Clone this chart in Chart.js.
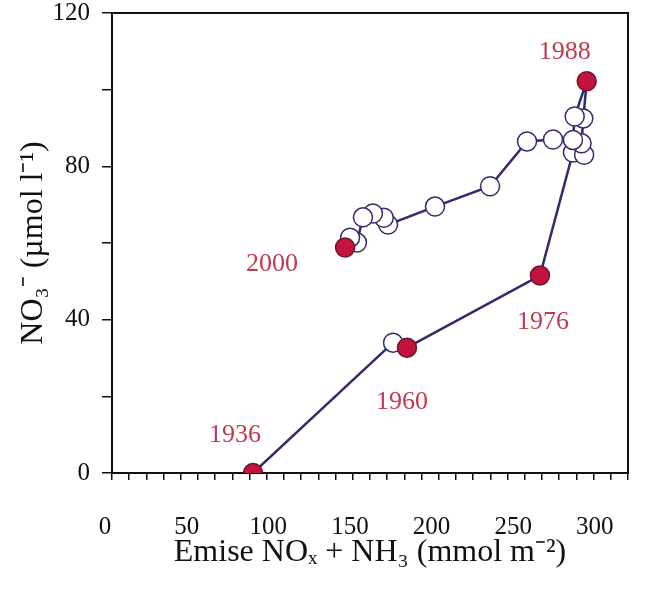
<!DOCTYPE html>
<html>
<head>
<meta charset="utf-8">
<script src="https://cdn.jsdelivr.net/npm/chart.js@4.4.1/dist/chart.umd.min.js"></script>
<style>
html, body { margin: 0; padding: 0; background: #fff; }
#wrap { width: 653px; height: 594px; }
</style>
</head>
<body>
<div id="wrap"><canvas id="graf" width="653" height="594"></canvas></div>
<script>
// emise NOx + NH3 vs. koncentrace NO3-, body v casovem poradi 1936 -> 2000
const emise = [82, 163.4, 171.5, 248.8, 268, 274.5, 273, 274, 276,
               269, 268, 256.4, 241.3, 219.8, 187.8, 160.5, 158, 151.7, 145.9, 142.4, 138.4, 135.5];
const dusicnany = [0, 34, 32.7, 51.5, 83.6, 83, 86, 92.5, 102.2,
                   93, 86.9, 87, 86.5, 74.8, 69.5, 64.8, 66.6, 67.7, 66.7, 60.1, 61.4, 58.8];
const roky = ['1936', '', '1960', '1976', '', '', '', '', '1988',
              '', '', '', '', '', '', '', '', '', '', '', '', '2000'];

const xTicky = [0, 50, 100, 150, 200, 250, 300];
const yTicky = [0, 40, 80, 120];

// barvy
const CARA = '#2f2d6c';
const CERVENA = '#c4133c';
const TEXT_ROK = '#c23a52';
const CERNA = '#111';
const PISMO = "'Liberation Serif', 'Times New Roman', serif";

// posun popisku roku od bodu (px)
const posunRoku = {
    '1936': [-18, -38],
    '1960': [-5, 55],
    '1976': [3, 47],
    '1988': [-22, -29],
    '2000': [-73, 17]
};

const body = emise.map((x, i) => ({ x: x, y: dusicnany[i] }));

// ramecek grafu + popisky roku
const ramecek = {
    id: 'ramecek',
    beforeDatasetsDraw(chart) {
        const a = chart.chartArea;
        const ctx = chart.ctx;
        ctx.save();
        ctx.strokeStyle = CERNA;
        ctx.lineWidth = 2;
        ctx.strokeRect(a.left, a.top, a.right - a.left, a.bottom - a.top);
        ctx.restore();
    },
    afterDatasetsDraw(chart) {
        const ctx = chart.ctx;
        const meta = chart.getDatasetMeta(0);
        ctx.save();
        ctx.font = '26px ' + PISMO;
        ctx.fillStyle = TEXT_ROK;
        ctx.textAlign = 'center';
        ctx.textBaseline = 'middle';
        roky.forEach((rok, i) => {
            if (!rok) return;
            const p = meta.data[i];
            const d = posunRoku[rok] || [0, -25];
            ctx.fillText(rok, p.x + d[0], p.y + d[1]);
        });
        ctx.restore();
    }
};

new Chart(document.getElementById('graf'), {
    type: 'scatter',
    data: {
        datasets: [{
            data: body,
            showLine: true,
            borderColor: CARA,
            borderWidth: 2.5,
            pointRadius: 9.5,
            pointBorderWidth: 1.5,
            pointBackgroundColor: roky.map(r => r ? CERVENA : '#fff'),
            pointBorderColor: roky.map(r => r ? '#6b1630' : CARA)
        }]
    },
    options: {
        responsive: false,
        animation: false,
        devicePixelRatio: 1,
        layout: { padding: { top: 13, right: 25, left: 0, bottom: 0 } },
        plugins: {
            legend: { display: false },
            tooltip: { enabled: false }
        },
        scales: {
            x: {
                type: 'linear',
                position: 'bottom',
                weight: 0,
                min: 0,
                max: 300,
                ticks: { stepSize: 10, display: false },
                grid: { drawOnChartArea: false, drawTicks: true, tickLength: 7, color: CERNA, lineWidth: 1.5 },
                border: { display: true, color: CERNA, width: 2 },
                afterFit: s => { s.height = 8; }
            },
            // popisky osy x jsou v predloze trochu posunute vuci znackam
            xPopisky: {
                type: 'linear',
                position: 'bottom',
                weight: 1,
                min: 4.29,
                max: 320.3,
                afterBuildTicks: s => { s.ticks = xTicky.map(v => ({ value: v })); },
                ticks: {
                    color: CERNA,
                    padding: 0,
                    maxRotation: 0,
                    autoSkip: false,
                    font: { family: PISMO, size: 25, lineHeight: 1 }
                },
                grid: { display: false, drawTicks: true, tickLength: 34 },
                border: { display: false },
                title: {
                    display: true,
                    text: 'Emise NOₓ + NH₃ (mmol m⁻²)',
                    color: CERNA,
                    font: { family: PISMO, size: 32 },
                    padding: { top: 0, bottom: 22 }
                },
                afterFit: s => { s.height = 113; }
            },
            y: {
                type: 'linear',
                min: 0,
                max: 120,
                ticks: {
                    stepSize: 20,
                    color: CERNA,
                    padding: 12,
                    font: { family: PISMO, size: 25, lineHeight: 0.02 },
                    callback: v => yTicky.includes(v) ? v : ''
                },
                grid: { drawOnChartArea: false, drawTicks: true, tickLength: 10, color: CERNA, lineWidth: 1.5 },
                border: { display: true, color: CERNA, width: 2 },
                title: {
                    display: true,
                    text: 'NO₃⁻ (µmol l⁻¹)',
                    color: CERNA,
                    font: { family: PISMO, size: 32 },
                    padding: { top: 14, bottom: 0 }
                },
                afterFit: s => { s.width = 112; }
            }
        }
    },
    plugins: [ramecek]
});
</script>
</body>
</html>
